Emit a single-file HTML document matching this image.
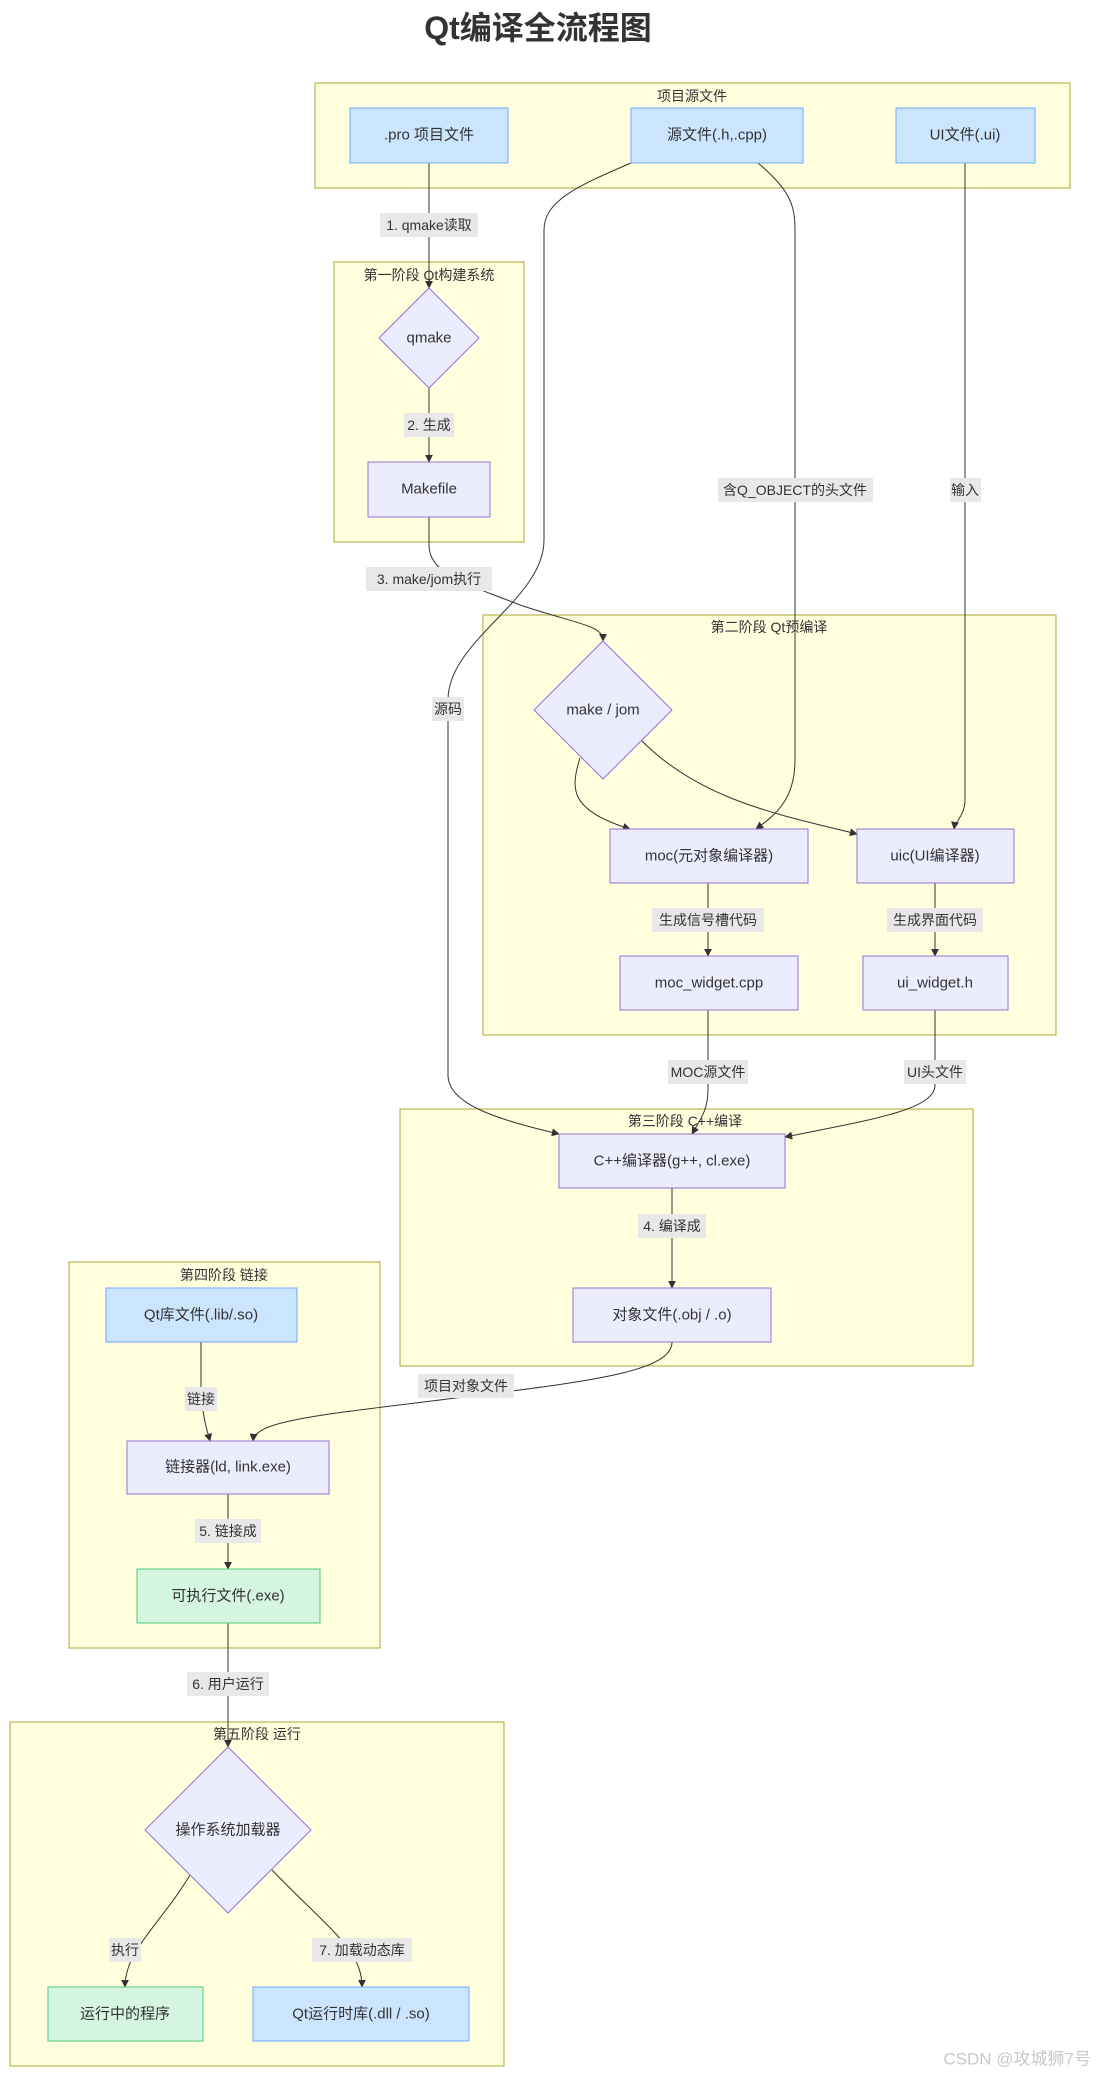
<!DOCTYPE html>
<html><head><meta charset="utf-8"><style>
html,body{margin:0;padding:0;background:#fff;}
svg{display:block;}
text{font-family:"Liberation Sans","Noto Sans CJK SC",sans-serif;fill:#333;}
.g{fill:#ffffde;stroke:#aaaa33;stroke-width:1;}
.n{fill:#ececff;stroke:#9370db;stroke-width:1;}
.b{fill:#cce5ff;stroke:#6fa8ff;stroke-width:1;}
.gr{fill:#d4f5e0;stroke:#52c97a;stroke-width:1;}
.e{fill:none;stroke:#333;stroke-width:1;marker-end:url(#ar);}
.lb{fill:#e8e8e8;}
.nt{font-size:15px;text-anchor:middle;dominant-baseline:central;}
.lt{font-size:14px;text-anchor:middle;dominant-baseline:central;}
.gt{font-size:14px;text-anchor:middle;dominant-baseline:central;}
</style></head><body>
<svg width="1096" height="2075" viewBox="0 0 1096 2075" xmlns="http://www.w3.org/2000/svg">
<defs><marker id="ar" viewBox="0 0 10 10" refX="9" refY="5" markerWidth="8" markerHeight="8" orient="auto"><path d="M0,0 L10,5 L0,10 z" fill="#333"/></marker></defs>
<text x="538" y="28" style="font-size:32px;font-weight:bold;text-anchor:middle;dominant-baseline:central;">Qt编译全流程图</text>

<!-- groups -->
<rect class="g" x="315" y="83" width="755" height="105"/>
<text class="gt" x="692" y="96">项目源文件</text>
<rect class="g" x="334" y="262" width="190" height="280"/>
<text class="gt" x="429" y="275">第一阶段 Qt构建系统</text>
<rect class="g" x="483" y="615" width="573" height="420"/>
<text class="gt" x="769" y="627">第二阶段 Qt预编译</text>
<rect class="g" x="400" y="1109" width="573" height="257"/>
<text class="gt" x="685" y="1121">第三阶段 C++编译</text>
<rect class="g" x="69" y="1262" width="311" height="386"/>
<text class="gt" x="224" y="1275">第四阶段 链接</text>
<rect class="g" x="10" y="1722" width="494" height="344"/>
<text class="gt" x="257" y="1734">第五阶段 运行</text>

<!-- edges -->
<path class="e" d="M429,163 L429,288"/>
<path class="e" d="M429,388 L429,462"/>
<path class="e" d="M429,517 L429,545 C429,575 470,585 520,605 C580,625 603,625 603,641"/>
<path class="e" d="M631,163 C580,185 544,200 544,230 L544,540 C544,600 448,640 448,700 L448,1075 C448,1105 500,1120 559,1134"/>
<path class="e" d="M758,163 C790,190 795,205 795,230 L795,760 C795,800 775,815 756,829"/>
<path class="e" d="M965,163 L965,800 C965,815 955,822 954,829"/>
<path class="e" d="M580,758 C570,790 570,810 630,829"/>
<path class="e" d="M641,740 C700,800 780,815 857,834"/>
<path class="e" d="M708,883 L708,956"/>
<path class="e" d="M935,883 L935,956"/>
<path class="e" d="M708,1010 L708,1090 C708,1110 700,1120 692,1134"/>
<path class="e" d="M935,1010 L935,1085 C935,1110 870,1120 785,1137"/>
<path class="e" d="M672,1188 L672,1288"/>
<path class="e" d="M672,1342 C672,1370 600,1380 480,1395 C320,1415 255,1420 253,1441"/>
<path class="e" d="M201,1342 L201,1390 C203,1420 207,1430 210,1441"/>
<path class="e" d="M228,1494 L228,1569"/>
<path class="e" d="M228,1623 L228,1747"/>
<path class="e" d="M190,1875 C160,1925 125,1950 125,1987"/>
<path class="e" d="M272,1870 C330,1930 362,1950 362,1987"/>

<!-- edge labels -->
<rect class="lb" x="380" y="213" width="98" height="24"/><text class="lt" x="429" y="225">1. qmake读取</text>
<rect class="lb" x="404" y="413" width="50" height="24"/><text class="lt" x="429" y="425">2. 生成</text>
<rect class="lb" x="366" y="567" width="126" height="24"/><text class="lt" x="429" y="579">3. make/jom执行</text>
<rect class="lb" x="718" y="478" width="155" height="24"/><text class="lt" x="795" y="490">含Q_OBJECT的头文件</text>
<rect class="lb" x="950" y="478" width="31" height="24"/><text class="lt" x="965" y="490">输入</text>
<rect class="lb" x="432" y="697" width="32" height="24"/><text class="lt" x="448" y="709">源码</text>
<rect class="lb" x="652" y="908" width="112" height="24"/><text class="lt" x="708" y="920">生成信号槽代码</text>
<rect class="lb" x="887" y="908" width="96" height="24"/><text class="lt" x="935" y="920">生成界面代码</text>
<rect class="lb" x="668" y="1060" width="80" height="24"/><text class="lt" x="708" y="1072">MOC源文件</text>
<rect class="lb" x="904" y="1060" width="62" height="24"/><text class="lt" x="935" y="1072">UI头文件</text>
<rect class="lb" x="638" y="1214" width="68" height="24"/><text class="lt" x="672" y="1226">4. 编译成</text>
<rect class="lb" x="418" y="1374" width="96" height="24"/><text class="lt" x="466" y="1386">项目对象文件</text>
<rect class="lb" x="185" y="1387" width="32" height="24"/><text class="lt" x="201" y="1399">链接</text>
<rect class="lb" x="195" y="1519" width="66" height="24"/><text class="lt" x="228" y="1531">5. 链接成</text>
<rect class="lb" x="187" y="1672" width="82" height="24"/><text class="lt" x="228" y="1684">6. 用户运行</text>
<rect class="lb" x="109" y="1938" width="32" height="24"/><text class="lt" x="125" y="1950">执行</text>
<rect class="lb" x="312" y="1938" width="100" height="24"/><text class="lt" x="362" y="1950">7. 加载动态库</text>

<!-- nodes -->
<rect class="b" x="350" y="108" width="158" height="55"/><text class="nt" x="429" y="135">.pro 项目文件</text>
<rect class="b" x="631" y="108" width="172" height="55"/><text class="nt" x="717" y="135">源文件(.h,.cpp)</text>
<rect class="b" x="896" y="108" width="139" height="55"/><text class="nt" x="965" y="135">UI文件(.ui)</text>
<polygon class="n" points="429,288 479,338 429,388 379,338"/><text class="nt" x="429" y="338">qmake</text>
<rect class="n" x="368" y="462" width="122" height="55"/><text class="nt" x="429" y="489">Makefile</text>
<polygon class="n" points="603,641 672,710 603,779 534,710"/><text class="nt" x="603" y="710">make / jom</text>
<rect class="n" x="610" y="829" width="198" height="54"/><text class="nt" x="709" y="856">moc(元对象编译器)</text>
<rect class="n" x="857" y="829" width="157" height="54"/><text class="nt" x="935" y="856">uic(UI编译器)</text>
<rect class="n" x="620" y="956" width="178" height="54"/><text class="nt" x="709" y="983">moc_widget.cpp</text>
<rect class="n" x="863" y="956" width="145" height="54"/><text class="nt" x="935" y="983">ui_widget.h</text>
<rect class="n" x="559" y="1134" width="226" height="54"/><text class="nt" x="672" y="1161">C++编译器(g++, cl.exe)</text>
<rect class="n" x="573" y="1288" width="198" height="54"/><text class="nt" x="672" y="1315">对象文件(.obj / .o)</text>
<rect class="b" x="106" y="1288" width="191" height="54"/><text class="nt" x="201" y="1315">Qt库文件(.lib/.so)</text>
<rect class="n" x="127" y="1441" width="202" height="53"/><text class="nt" x="228" y="1467">链接器(ld, link.exe)</text>
<rect class="gr" x="137" y="1569" width="183" height="54"/><text class="nt" x="228" y="1596">可执行文件(.exe)</text>
<polygon class="n" points="228,1747 311,1830 228,1913 145,1830"/><text class="nt" x="228" y="1830">操作系统加载器</text>
<rect class="gr" x="48" y="1987" width="155" height="54"/><text class="nt" x="125" y="2014">运行中的程序</text>
<rect class="b" x="253" y="1987" width="216" height="54"/><text class="nt" x="361" y="2014">Qt运行时库(.dll / .so)</text>

<text x="1091" y="2059" style="font-size:17px;fill:#c8c8c8;text-anchor:end;dominant-baseline:central;">CSDN @攻城狮7号</text>
</svg>
</body></html>
